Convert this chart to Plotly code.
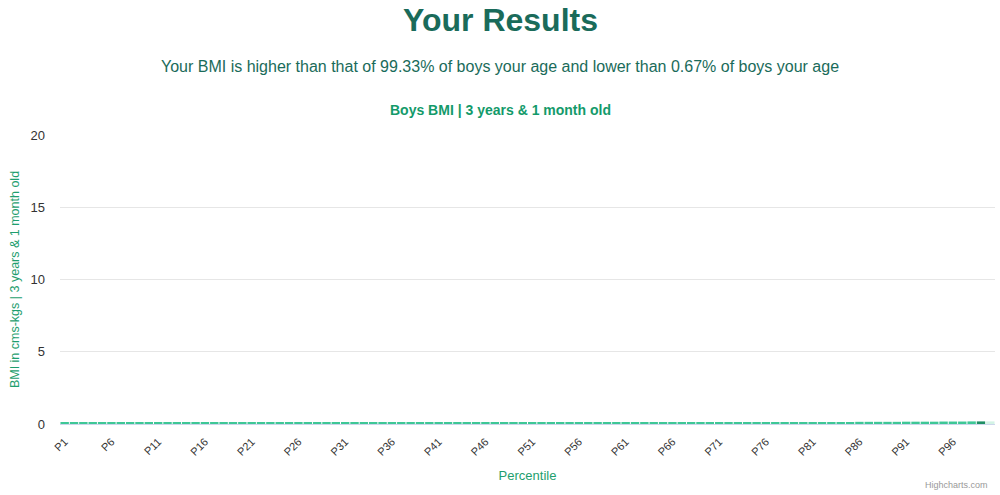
import plotly.graph_objects as go

# percentile categories P1..P100
percentiles = ["P" + str(i) for i in range(1, 101)]

# bar heights (bars are only a pixel or two tall)
bmi_values = [
    0.07, 0.07, 0.07, 0.07, 0.07, 0.07, 0.07, 0.07, 0.07, 0.07,
    0.08, 0.08, 0.08, 0.08, 0.08, 0.08, 0.08, 0.08, 0.08, 0.08,
    0.09, 0.09, 0.09, 0.09, 0.09, 0.09, 0.09, 0.09, 0.09, 0.09,
    0.10, 0.10, 0.10, 0.10, 0.10, 0.10, 0.10, 0.10, 0.10, 0.10,
    0.10, 0.10, 0.10, 0.10, 0.10, 0.11, 0.11, 0.11, 0.11, 0.11,
    0.11, 0.11, 0.11, 0.11, 0.11, 0.12, 0.12, 0.12, 0.12, 0.12,
    0.12, 0.12, 0.12, 0.12, 0.12, 0.13, 0.13, 0.13, 0.13, 0.13,
    0.13, 0.13, 0.13, 0.13, 0.13, 0.14, 0.14, 0.14, 0.14, 0.14,
    0.14, 0.14, 0.14, 0.14, 0.14, 0.15, 0.15, 0.15, 0.15, 0.15,
    0.16, 0.16, 0.16, 0.16, 0.17, 0.17, 0.17, 0.18, 0.18, 0.18,
]

tick_labels = ["P" + str(i) for i in range(1, 100, 5)]
y_ticks = [0, 5, 10, 15, 20]

user_percentile = "P99"

bar_colors = []
for p in percentiles:
    if p == user_percentile:
        bar_colors.append("#1f8f64")
    elif p == "P100":
        bar_colors.append("#d3f3e5")
    else:
        bar_colors.append("#3ec796")

W, H = 1000, 495
L, R, T, B = 60, 5, 135, 71
plot_h = H - T - B
plot_w = W - L - R

fig = go.Figure()

fig.add_trace(go.Bar(x=percentiles, y=bmi_values, marker_color=bar_colors,
                     marker_line_width=0, showlegend=False))

fig.update_layout(
    width=W, height=H,
    margin=dict(l=L, r=R, t=T, b=B),
    plot_bgcolor="white", paper_bgcolor="white",
    font=dict(family="Liberation Sans, Arial, sans-serif", size=12, color="#333333"),
    bargap=0.1,
)

fig.update_xaxes(
    type="category", tickmode="array", tickvals=tick_labels, ticktext=tick_labels,
    tickangle=-45, tickfont=dict(size=11, color="#333333"), ticklabelstandoff=6,
    showline=True, linecolor="#ccd6eb", linewidth=1,
    showgrid=False, ticks="",
    title=dict(text="Percentile", font=dict(size=13, color="#1e9e6e"), standoff=14),
)

fig.update_yaxes(
    range=[0, 20], tickvals=y_ticks, showgrid=True, gridcolor="#e6e6e6",
    zeroline=False, tickfont=dict(size=13, color="#333333"), ticklabelstandoff=14,
    title=dict(text="BMI in cms-kgs | 3 years & 1 month old",
               font=dict(size=12.5, color="#1e9e6e"), standoff=8),
)


def header(text, py, size, color):
    # py is the pixel row of the text centre
    fig.add_annotation(text=text, x=0.5 * (W) / plot_w - L / plot_w,
                       y=1 + (T - py) / plot_h, xref="paper", yref="paper",
                       xanchor="center", yanchor="middle", showarrow=False,
                       font=dict(size=size, color=color))


header("<b>Your Results</b>", 20, 32, "#1a6b5a")
header("Your BMI is higher than that of 99.33% of boys your age and lower than 0.67% of boys your age",
       67, 16, "#1a6b5a")
header("<b>Boys BMI | 3 years & 1 month old</b>", 110, 14, "#139a6a")

fig.add_annotation(text="Highcharts.com", x=(990 - L) / plot_w, y=(T + plot_h - 485) / plot_h,
                   xref="paper", yref="paper", xanchor="right", yanchor="middle",
                   showarrow=False, font=dict(size=9, color="#999999"))

fig.write_html("out.html", config={"displayModeBar": False},
               post_script="document.body.style.margin='0';")
